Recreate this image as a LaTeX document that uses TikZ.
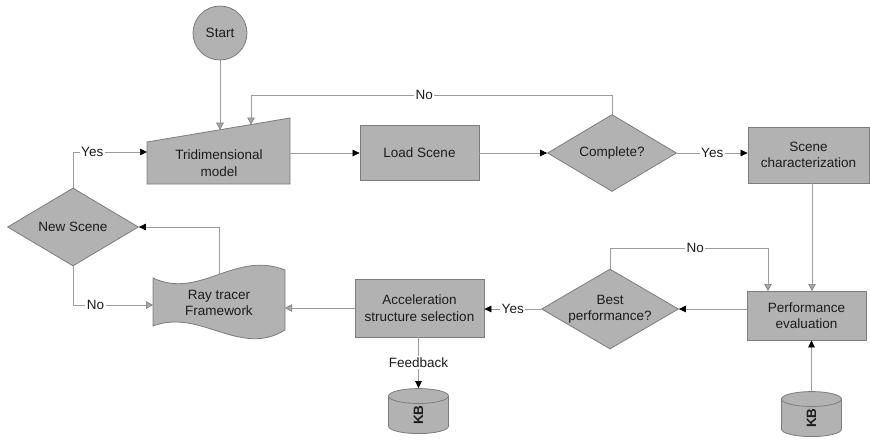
\documentclass[tikz,border=0pt]{standalone}
\usepackage{fontspec}
\setmainfont{Liberation Sans}
\usetikzlibrary{shapes.geometric,arrows.meta,calc}
\definecolor{boxgray}{HTML}{B2B2B2}
\definecolor{edgegray}{HTML}{7C7C7C}
\definecolor{linegray}{HTML}{9C9C9C}
\definecolor{tipgray}{HTML}{A8A8A8}
\definecolor{textcol}{HTML}{1C1C1C}
\begin{document}
\begin{tikzpicture}[x=1pt,y=-1pt,
  font=\fontsize{13.5}{16.5}\selectfont,
  every node/.style={text=textcol},
  shapefill/.style={fill=boxgray, draw=edgegray, line width=0.8pt},
  box/.style={shapefill, rectangle, align=center, inner sep=0pt},
  dia/.style={shapefill, diamond, align=center, inner sep=0pt},
  db/.style={shapefill, cylinder, rotate=90, aspect=1.6, inner sep=0pt,
             minimum width=60pt, minimum height=45pt, font=\fontsize{13.5}{16.5}\selectfont\bfseries},
  conn/.style={draw=linegray, line width=0.7pt},
  blk/.style={conn, -{Triangle[length=7pt,width=6.5pt,color=black]}},
  gry/.style={conn, -{Triangle[length=7pt,width=7.5pt,color=edgegray,fill=tipgray,line width=0.6pt]}},
  lab/.style={fill=white, inner sep=1.5pt}
]
\useasboundingbox (0,0) rectangle (870,445);

% Start
\node[shapefill, circle, minimum size=54pt, inner sep=0pt] (start) at (220,33) {Start};

% Tridimensional model (manual input)
\draw[shapefill] (147,142) -- (290,118) -- (290,184) -- (147,184) -- cycle;
\node[align=center] (tri) at (219,163) {Tridimensional\\model};
\coordinate (triS) at (220,129.7);
\coordinate (triN) at (251,124.5);
\coordinate (triW) at (147,152);
\coordinate (triE) at (290,153);

% Load scene
\node[box, minimum width=119pt, minimum height=55pt] (load) at (419.5,153) {Load Scene};

% Complete?
\node[dia, minimum width=129pt, minimum height=77pt, shape aspect=1.675] (cmp) at (612,153) {Complete?};

% Scene characterization
\node[box, minimum width=121pt, minimum height=56pt] (sc) at (808.5,155) {Scene\\characterization};

% Performance evaluation
\node[box, minimum width=119pt, minimum height=49pt] (pe) at (806.5,315.5) {Performance\\evaluation};

% Best performance?
\node[dia, minimum width=137pt, minimum height=80pt, shape aspect=1.7125] (best) at (610,309) {Best\\performance?};

% Acceleration structure selection
\node[box, minimum width=129pt, minimum height=58pt] (acc) at (419.5,308) {Acceleration\\structure selection};

% Ray tracer framework (punched tape)
\draw[shapefill] (153,278) .. controls (200,300) and (235,250) .. (285,270)
  -- (285,330) .. controls (240,358) and (200,308) .. (153,326) -- cycle;
\node[align=center] (ray) at (219,303) {Ray tracer\\Framework};
\coordinate (rayN) at (219,274.5);
\coordinate (rayW) at (153,305);
\coordinate (rayE) at (285,308);

% New Scene
\node[dia, minimum width=131pt, minimum height=78pt, shape aspect=1.68] (ns) at (73,227) {New Scene};

% Knowledge bases
\node[db] (kb1) at (418.5,415) {KB};
\node[db] (kb2) at (811.5,418) {KB};

% helper coordinates
\coordinate (n1) at (612,95);
\coordinate (n2) at (251,95);
\coordinate (m1) at (610,248);
\coordinate (m2) at (768,248);
\coordinate (peN) at (768,291);
\coordinate (y1) at (73,152);
\coordinate (q1) at (73,305);
\coordinate (scS) at (812,183);
\coordinate (peN2) at (812,291);

% connectors
\draw[gry] (start) -- (triS);
\draw[blk] (triE) -- (load.west);
\draw[blk] (load.east) -- (cmp.west);
\draw[blk] (cmp.east) -- node[lab]{Yes} (sc.west |- cmp.east);
\draw[gry] (cmp.north) -- (n1) -- node[lab,pos=0.52]{No} (n2) -- (triN);
\draw[gry] (scS) -- (peN2);
\draw[gry] (best.north) -- (m1) -- node[lab,pos=0.54]{No} (m2) -- (peN);
\draw[blk] (pe.west |- best.east) -- (best.east);
\draw[blk] (best.west) -- node[lab]{Yes} (acc.east |- best.west);
\draw[gry] (acc.west) -- (rayE);
\draw[blk] (rayN) |- (ns.east);
\draw[gry] (ns.south) -- (q1) -- node[lab,pos=0.28]{No} (rayW);
\draw[blk] (ns.north) -- (y1) -- node[lab,pos=0.26]{Yes} (triW);
\draw[blk] (acc.south -| kb1.top) -- node[lab]{Feedback} (kb1.top);
\draw[blk] (kb2.top) -- (pe.south -| kb2.top);
\end{tikzpicture}
\end{document}
